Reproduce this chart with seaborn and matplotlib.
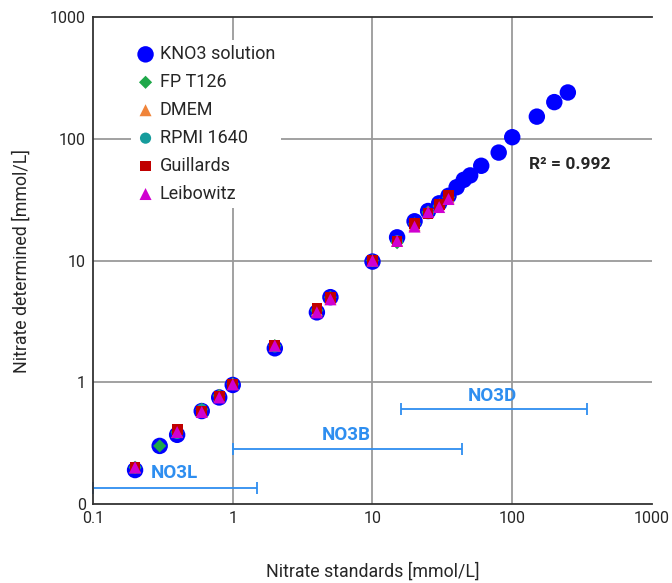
import numpy as np
import pandas as pd
import seaborn as sns
import matplotlib.pyplot as plt
from matplotlib.ticker import FixedLocator, LogLocator, NullFormatter

# ── Data ──
x_kno3 = [0.2, 0.3, 0.4, 0.6, 0.8, 1, 2, 4, 5, 10, 15, 20, 25, 30, 35,
          40, 45, 50, 60, 80, 100, 150, 200, 250]
y_kno3 = [0.19, 0.30, 0.37, 0.58, 0.75, 0.95, 1.9, 3.75, 5.0, 9.8, 15.5, 21, 25.5, 29.5, 34,
          40, 46, 50, 60, 77, 103, 152, 200, 240]

x_fp = [0.2, 0.3, 0.4, 0.6, 0.8, 1, 2, 4, 5, 10, 15, 20, 25, 30, 35]
y_fp = [0.20, 0.30, 0.39, 0.60, 0.78, 0.97, 2.0, 3.9, 5.0, 10, 14, 20, 25, 28, 33]

x_media = [0.2, 0.4, 0.6, 0.8, 1, 2, 4, 5, 10, 15, 20, 25, 30, 35]
y_dmem = [0.20, 0.39, 0.58, 0.78, 0.97, 2.0, 3.9, 4.9, 10, 14.5, 19.5, 25, 29, 33]
y_rpmi = [0.20, 0.38, 0.60, 0.77, 0.96, 1.95, 3.9, 4.9, 10, 14.5, 20, 24.5, 28, 33]
y_guil = [0.20, 0.41, 0.58, 0.77, 0.96, 2.0, 4.05, 5.0, 10, 14.3, 20, 24.5, 29, 34]
y_leib = [0.20, 0.39, 0.57, 0.75, 0.96, 2.0, 3.75, 4.8, 10, 14.5, 19, 25, 27.5, 32]

# measuring ranges of the methods
range_names = ["NO3L", "NO3B", "NO3D"]
range_lo = [0.1, 1.0, 16]
range_hi = [1.5, 44, 345]
range_y = [0.135, 0.282, 0.60]
range_label_x = [0.385, 6.5, 72]
range_label_y = [0.18, 0.37, 0.77]

r2_text = "R² = 0.992"

# ── Plot ──
sns.set_style("white")
plt.rcParams["font.family"] = ["Roboto", "DejaVu Sans"]

fig = plt.figure(figsize=(6.72, 5.83), dpi=100)
ax = fig.add_axes([0.1384, 0.1355, 0.8318, 0.8353])
ax.set_xscale("log")
ax.set_yscale("log")

series = [
    ("KNO3 solution", x_kno3, y_kno3, "#0000FF", "o", 140),
    ("FP T126", x_fp, y_fp, "#1FA84A", "D", 45),
    ("DMEM", x_media, y_dmem, "#F0843A", "^", 75),
    ("RPMI 1640", x_media, y_rpmi, "#169C9C", "o", 65),
    ("Guillards", x_media, y_guil, "#C00000", "s", 60),
    ("Leibowitz", x_media, y_leib, "#D000D0", "^", 75),
]
for name, xs, ys, col, mk, sz in series:
    sns.scatterplot(x=xs, y=ys, ax=ax, color=col, marker=mk, s=sz,
                    edgecolor="none", label=name, zorder=3)

# grid lines only at inner decades
for v in [1, 10, 100]:
    ax.axvline(v, color="#9a9a9a", lw=1.3, zorder=1)
    ax.axhline(v, color="#9a9a9a", lw=1.3, zorder=1)

ax.set_xlim(0.1, 1000)
ax.set_ylim(0.1, 1000)

ax.xaxis.set_major_locator(FixedLocator([0.1, 1, 10, 100, 1000]))
ax.set_xticklabels(["0.1", "1", "10", "100", "1000"])
ax.yaxis.set_major_locator(FixedLocator([0.1, 1, 10, 100, 1000]))
ax.set_yticklabels(["0", "1", "10", "100", "1000"])
for axis in [ax.xaxis, ax.yaxis]:
    axis.set_minor_locator(LogLocator(base=10, subs=range(2, 10)))
    axis.set_minor_formatter(NullFormatter())

ax.tick_params(which="both", direction="in", length=7, width=1, color="#333333",
               top=False, right=False, labelsize=11.5, pad=5)

for side in ["left", "bottom", "top"]:
    ax.spines[side].set_color("#333333")
    ax.spines[side].set_linewidth(1.3)
ax.spines["right"].set_visible(False)

# measuring range bars
for name, lo, hi, yy, lx, ly in zip(range_names, range_lo, range_hi, range_y,
                                    range_label_x, range_label_y):
    c = np.sqrt(lo * hi)
    ax.errorbar(c, yy, xerr=[[c - lo], [hi - c]], fmt="none", ecolor="#2E8EF0",
                elinewidth=1.3, capsize=4, capthick=1.3, zorder=2, clip_on=False)
    ax.text(lx, ly, name, color="#2E8EF0", fontsize=13.5, fontweight="bold",
            ha="center", va="center")

ax.text(132, 62, r2_text, fontsize=12.5, fontweight="bold", ha="left", va="center")

ax.set_xlabel("Nitrate standards [mmol/L]", fontsize=12.8, labelpad=26)
ax.set_ylabel("Nitrate determined [mmol/L]", fontsize=12.8, labelpad=14)

ax.legend(loc="upper left", bbox_to_anchor=(0.052, 0.972), frameon=True,
          facecolor="white", edgecolor="none", framealpha=1, fontsize=13,
          labelspacing=0.55, handletextpad=0.3, borderpad=0.3, handlelength=1.0)

fig.savefig("out.png", dpi=100)
